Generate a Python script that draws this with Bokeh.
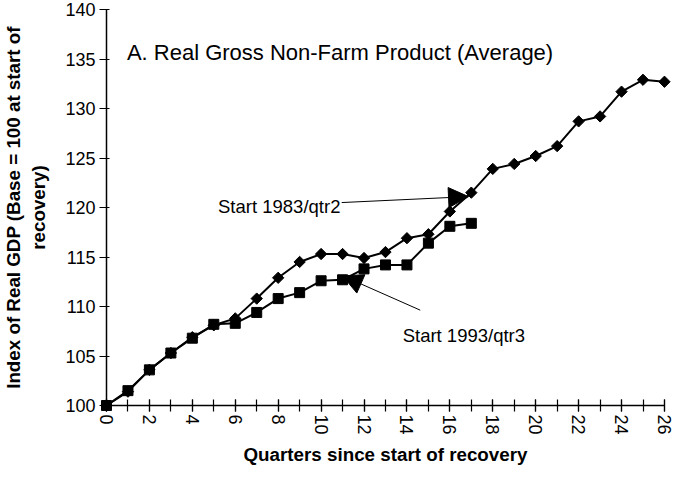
import math
from bokeh.plotting import figure
from bokeh.models import (Range1d, LinearAxis, SingleIntervalTicker, Arrow,
                          NormalHead, Label, ColumnDataSource)
from bokeh.embed import file_html
from bokeh.resources import INLINE

# ---- data ----
quarters_1983 = list(range(27))
gdp_1983 = [100.0, 101.4, 103.6, 105.3, 106.9, 108.1, 108.8, 110.8, 112.9,
            114.5, 115.3, 115.3, 114.9, 115.5, 116.9, 117.3, 119.6, 121.5,
            123.9, 124.4, 125.2, 126.2, 128.7, 129.2, 131.7, 132.9, 132.7]
quarters_1993 = list(range(18))
gdp_1993 = [100.0, 101.5, 103.6, 105.3, 106.8, 108.2, 108.3, 109.4, 110.8,
            111.4, 112.6, 112.7, 113.8, 114.2, 114.2, 116.4, 118.1, 118.4]

title_text = "A. Real Gross Non-Farm Product (Average)"
label_1983 = "Start 1983/qtr2"
label_1993 = "Start 1993/qtr3"
x_title = "Quarters since start of recovery"
y_title = "Index of Real GDP (Base = 100 at start of\nrecovery)"

FONT = "Liberation Sans"

W, H = 677, 468
# pixel layout: frame covers the whole canvas, axes are pinned at x=0 / y=100
X0_PX, UX = 106.0, 21.46     # x=0 position and pixels per quarter
Y140_PX, UY = 9.0, 9.9       # y=140 position and pixels per index point
x_start = -X0_PX / UX
x_end = x_start + W / UX
y_end = 140 + Y140_PX / UY
y_start = y_end - H / UY

p = figure(width=W, height=H, output_backend="svg", toolbar_location=None,
           x_axis_location=None, y_axis_location=None,
           x_range=Range1d(x_start, x_end), y_range=Range1d(y_start, y_end),
           min_border_left=0, min_border_right=0, min_border_top=0,
           min_border_bottom=0)
p.outline_line_color = None
p.xgrid.visible = False
p.ygrid.visible = False
p.background_fill_color = "white"
p.border_fill_color = "white"

# ---- axes ----
xaxis = LinearAxis(fixed_location=100, bounds=(0, 26),
                   ticker=SingleIntervalTicker(interval=2, num_minor_ticks=2))
yaxis = LinearAxis(fixed_location=0, bounds=(100, 140),
                   ticker=SingleIntervalTicker(interval=5, num_minor_ticks=0))
for ax in (xaxis, yaxis):
    ax.axis_line_color = "black"
    ax.axis_line_width = 1.5
    ax.major_tick_line_color = "black"
    ax.major_tick_line_width = 1.2
    ax.minor_tick_line_color = "black"
    ax.minor_tick_line_width = 1.2
    ax.major_label_text_font = FONT
    ax.major_label_text_font_size = "18px"
    ax.major_label_text_color = "black"
    ax.axis_label_text_font = FONT
    ax.axis_label_text_font_size = "18.8px"
    ax.axis_label_text_font_style = "bold"
    ax.axis_label_text_color = "black"

xaxis.major_tick_in = 6
xaxis.major_tick_out = 6
xaxis.minor_tick_in = 6
xaxis.minor_tick_out = 6
xaxis.major_label_orientation = "vertical"
xaxis.major_label_standoff = 3
xaxis.axis_label = x_title
xaxis.axis_label_standoff = 6

yaxis.major_tick_in = 3
yaxis.major_tick_out = 7
yaxis.minor_tick_in = 0
yaxis.minor_tick_out = 0
yaxis.major_label_standoff = 4
yaxis.axis_label = y_title
yaxis.axis_label_standoff = 13

p.add_layout(xaxis, "below")
p.add_layout(yaxis, "left")

# ---- series ----
src83 = ColumnDataSource(dict(x=quarters_1983, y=gdp_1983))
src93 = ColumnDataSource(dict(x=quarters_1993, y=gdp_1993))

p.line("x", "y", source=src93, line_color="black", line_width=2)
p.scatter("x", "y", source=src93, marker="square", size=10,
          fill_color="black", line_color="black")
p.line("x", "y", source=src83, line_color="black", line_width=2)
p.scatter("x", "y", source=src83, marker="square", size=8, angle=math.pi / 4,
          fill_color="black", line_color="black")

# ---- annotations ----
p.add_layout(Label(x=0.95, y=135.7, text=title_text, text_font=FONT,
                   text_font_size="22px", text_color="black",
                   text_baseline="alphabetic", text_align="left"))
p.add_layout(Label(x=10.9, y=120.13, text=label_1983, text_font=FONT,
                   text_font_size="18.5px", text_color="black",
                   text_baseline="alphabetic", text_align="right"))
p.add_layout(Label(x=13.8, y=107.1, text=label_1993, text_font=FONT,
                   text_font_size="18.5px", text_color="black",
                   text_baseline="alphabetic", text_align="left"))

p.add_layout(Arrow(x_start=10.96, y_start=120.5, x_end=16.87, y_end=121.1,
                   line_color="black", line_width=1,
                   end=NormalHead(size=20, fill_color="black",
                                  line_color="black", line_width=1)))
p.add_layout(Arrow(x_start=14.62, y_start=109.63, x_end=11.0, y_end=113.1,
                   line_color="black", line_width=1,
                   end=NormalHead(size=20, fill_color="black",
                                  line_color="black", line_width=1)))

open("out.html", "w").write(file_html(p, INLINE))
